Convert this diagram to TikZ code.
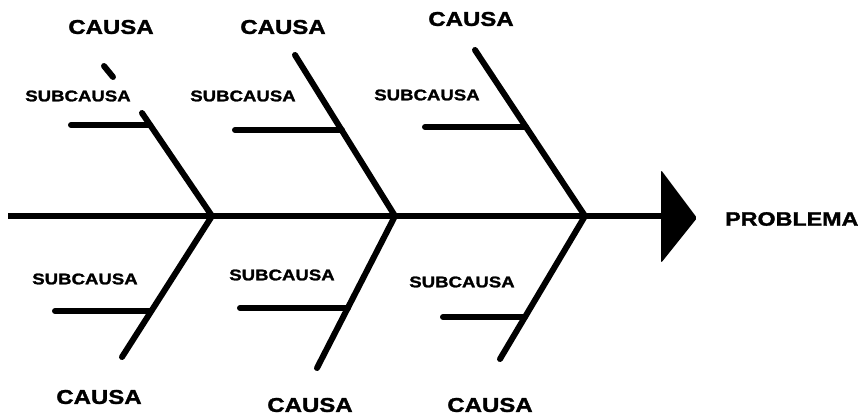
\documentclass[tikz,border=0pt]{standalone}
\usepackage{fontspec}
\newfontfamily\lblfont{Liberation Sans}[FakeStretch=1.2,BoldFeatures={FakeBold=1.5}]
\begin{document}
\begin{tikzpicture}[x=1pt,y=-1pt,
  bone/.style={line width=6pt,line cap=round},
  causelbl/.style={font=\lblfont\bfseries\fontsize{20}{24}\selectfont,inner sep=0pt},
  sublbl/.style={font=\lblfont\bfseries\fontsize{15.5}{18}\selectfont,inner sep=0pt},
  problbl/.style={font=\lblfont\bfseries\fontsize{19.4}{23}\selectfont,inner sep=0pt,anchor=west}]
\useasboundingbox[fill=white] (0,0) rectangle (864,416);
% spine and head
\coordinate (tail) at (8,216);
\coordinate (hb) at (661,216);
\coordinate (j1) at (212,216);
\coordinate (j2) at (395,216);
\coordinate (j3) at (585,216);
\draw[bone,line cap=butt] (tail) -- (hb);
\fill[rounded corners=2pt] (661,170) -- (697,218) -- (661,263) -- cycle;
% upper bones
\coordinate (u1a) at (104,66);
\coordinate (u1b) at (113,77);
\coordinate (u1) at (142,113);
\coordinate (u2) at (295,55);
\coordinate (u3) at (475,50);
\draw[bone] (u1a) -- (u1b);
\draw[bone] (u1) -- (j1);
\draw[bone] (u2) -- (j2);
\draw[bone] (u3) -- (j3);
% lower bones
\coordinate (l1) at (122,357);
\coordinate (l2) at (317,368);
\coordinate (l3) at (500,359);
\draw[bone] (j1) -- (l1);
\draw[bone] (j2) -- (l2);
\draw[bone] (j3) -- (l3);
% sub-cause lines
\coordinate (s1a) at (71,125);  \coordinate (s1b) at (149,125);
\coordinate (s2a) at (235,130); \coordinate (s2b) at (342,130);
\coordinate (s3a) at (425,127); \coordinate (s3b) at (526,127);
\coordinate (t1a) at (55,311);  \coordinate (t1b) at (151,311);
\coordinate (t2a) at (240,308); \coordinate (t2b) at (348,308);
\coordinate (t3a) at (443,317); \coordinate (t3b) at (525,317);
\draw[bone] (s1a) -- (s1b);
\draw[bone] (s2a) -- (s2b);
\draw[bone] (s3a) -- (s3b);
\draw[bone] (t1a) -- (t1b);
\draw[bone] (t2a) -- (t2b);
\draw[bone] (t3a) -- (t3b);
% labels
\node[causelbl] (c1) at (111,27) {CAUSA};
\node[causelbl] (c2) at (283,27) {CAUSA};
\node[causelbl] (c3) at (471,19) {CAUSA};
\node[causelbl] (c4) at (99,397) {CAUSA};
\node[causelbl] (c5) at (310,405) {CAUSA};
\node[causelbl] (c6) at (490,405) {CAUSA};
\node[sublbl] (sc1) at (78,96) {SUBCAUSA};
\node[sublbl] (sc2) at (243,96) {SUBCAUSA};
\node[sublbl] (sc3) at (427,95) {SUBCAUSA};
\node[sublbl] (sc4) at (85,279) {SUBCAUSA};
\node[sublbl] (sc5) at (282,275) {SUBCAUSA};
\node[sublbl] (sc6) at (462,282) {SUBCAUSA};
\node[problbl] (p) at (725,219) {PROBLEMA};
\end{tikzpicture}
\end{document}
